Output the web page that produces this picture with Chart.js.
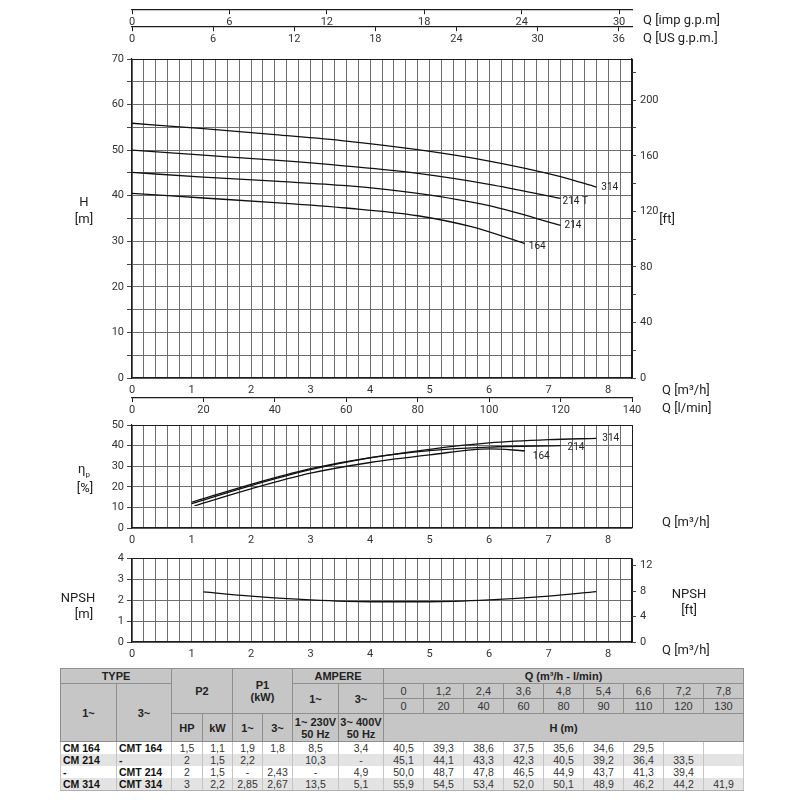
<!DOCTYPE html>
<html>
<head>
<meta charset="utf-8">
<title>CM pump curves</title>
<script src="https://cdn.jsdelivr.net/npm/chart.js@4.4.1/dist/chart.umd.min.js"></script>
<style>
  html, body { margin: 0; padding: 0; background: #fff; }
  body { width: 800px; height: 800px; position: relative; overflow: hidden;
         font-family: Roboto, "Liberation Sans", sans-serif; color: #222; }
  canvas { position: absolute; left: 0; }
  .lbl { position: absolute; font-size: 13px; line-height: 16px; white-space: nowrap; }
  .c { transform: translate(-50%, -50%); text-align: center; }
  .l { transform: translate(0, -50%); }
  table { position: absolute; left: 60px; top: 668px; border-collapse: collapse; table-layout: fixed;
          font-family: "Liberation Sans", Arial, sans-serif; font-size: 10.5px; color: #333; }
  th { background: #c6c6c6; border: 1px solid #8e8e8e; font-weight: bold; color: #222;
       padding: 0; text-align: center; line-height: 12px; font-size: 11px; }
  th.n { font-weight: normal; color: #333; font-size: 11px; }
  td { border-left: 1px solid #c4c4c4; border-right: 1px solid #c4c4c4; padding: 0;
       text-align: center; height: 12px; line-height: 12px; }
  td.t { text-align: left; padding-left: 2px; font-weight: bold; color: #111; }
  tr.g td { background: #e3e3e3; }
  tbody tr:last-child td { border-bottom: 1px solid #b0b0b0; }
</style>
</head>
<body>
<canvas id="cH" width="800" height="420" style="top:0"></canvas>
<canvas id="cE" width="800" height="138" style="top:412px"></canvas>
<canvas id="cN" width="800" height="119" style="top:548px"></canvas>

<div class="lbl l" style="left:643px; top:20px">Q [imp g.p.m]</div>
<div class="lbl l" style="left:643px; top:38px">Q [US g.p.m.]</div>
<div class="lbl c" style="left:84px; top:202px">H</div>
<div class="lbl c" style="left:84px; top:219px">[m]</div>
<div class="lbl c" style="left:667px; top:219px">[ft]</div>
<div class="lbl l" style="left:662px; top:390px">Q [m³/h]</div>
<div class="lbl l" style="left:662px; top:408px">Q [l/min]</div>
<div class="lbl c" style="left:84px; top:472px">η<sub style="font-size:8px">p</sub></div>
<div class="lbl c" style="left:85px; top:488px">[%]</div>
<div class="lbl l" style="left:662px; top:522px">Q [m³/h]</div>
<div class="lbl c" style="left:78px; top:598px">NPSH</div>
<div class="lbl c" style="left:84px; top:614px">[m]</div>
<div class="lbl c" style="left:689px; top:594px">NPSH</div>
<div class="lbl c" style="left:689px; top:610px">[ft]</div>
<div class="lbl l" style="left:662px; top:650px">Q [m³/h]</div>

<table id="tbl">
  <colgroup>
    <col style="width:56px"><col style="width:55px"><col style="width:31px"><col style="width:30px">
    <col style="width:30px"><col style="width:30px"><col style="width:46px"><col style="width:45px">
    <col style="width:40px"><col style="width:40px"><col style="width:40px"><col style="width:40px">
    <col style="width:40px"><col style="width:40px"><col style="width:40px"><col style="width:40px">
    <col style="width:40px">
  </colgroup>
  <thead>
    <tr style="height:15px">
      <th colspan="2">TYPE</th>
      <th colspan="2" rowspan="3">P2</th>
      <th colspan="2" rowspan="3">P1<br>(kW)</th>
      <th colspan="2">AMPERE</th>
      <th colspan="9">Q (m³/h - l/min)</th>
    </tr>
    <tr id="rowQ" style="height:15px">
      <th rowspan="3">1~</th><th rowspan="3">3~</th>
      <th rowspan="2">1~</th><th rowspan="2">3~</th>
    </tr>
    <tr id="rowL" style="height:15px"></tr>
    <tr style="height:28px">
      <th>HP</th><th>kW</th><th>1~</th><th>3~</th>
      <th>1~ 230V<br>50 Hz</th><th>3~ 400V<br>50 Hz</th>
      <th colspan="9">H (m)</th>
    </tr>
  </thead>
  <tbody id="tb"></tbody>
</table>

<script>
// flow points of the table, m3/h and l/min
const qTable = [0, 1.2, 2.4, 3.6, 4.8, 5.4, 6.6, 7.2, 7.8];
const qTableLmin = [0, 20, 40, 60, 80, 90, 110, 120, 130];

// head (m) per model, as printed in the table
const hCM164 = [40.5, 39.3, 38.6, 37.5, 35.6, 34.6, 29.5];
const hCM214 = [45.1, 44.1, 43.3, 42.3, 40.5, 39.2, 36.4, 33.5];
const hCMT214 = [50.0, 48.7, 47.8, 46.5, 44.9, 43.7, 41.3, 39.4];
const hCM314 = [55.9, 54.5, 53.4, 52.0, 50.1, 48.9, 46.2, 44.2, 41.9];

// head curves (m)
const curveQ314 = [0, 1.2, 2.4, 3.6, 4.8, 6.0, 7.2, 7.8];
const curveH314 = [55.9, 54.7, 53.4, 52.0, 50.1, 47.6, 44.2, 41.9];
const curveQ214T = [0, 1.2, 2.4, 3.6, 4.8, 6.0, 7.2];
const curveH214T = [50.0, 48.9, 47.8, 46.5, 44.9, 42.5, 39.4];
const curveQ214 = [0, 1.2, 2.4, 3.6, 4.8, 6.0, 7.2];
const curveH214 = [45.1, 44.1, 43.2, 42.2, 40.5, 37.8, 33.5];
const curveQ164 = [0, 1.2, 2.4, 3.6, 4.8, 5.7, 6.6];
const curveH164 = [40.5, 39.5, 38.5, 37.3, 35.6, 33.2, 29.5];

// table electrical data
const type1 = ['CM 164', 'CM 214', '-', 'CM 314'];
const type3 = ['CMT 164', '-', 'CMT 214', 'CMT 314'];
const p2HP = ['1,5', '2', '2', '3'];
const p2kW = ['1,1', '1,5', '1,5', '2,2'];
const p1One = ['1,9', '2,2', '-', '2,85'];
const p1Three = ['1,8', '', '2,43', '2,67'];
const ampOne = ['8,5', '10,3', '-', '13,5'];
const ampThree = ['3,4', '-', '4,9', '5,1'];
const headRows = [hCM164, hCM214, hCMT214, hCM314];

// pump efficiency (%)
const effQ314 = [1.0, 2.0, 3.0, 4.0, 5.0, 6.0, 7.0, 7.8];
const eff314 = [11.8, 20.6, 28.3, 34.0, 38.2, 41.3, 42.9, 43.5];
const effQ214 = [1.0, 2.0, 3.0, 4.0, 5.0, 6.0, 7.2];
const eff214 = [12.5, 21.2, 28.8, 34.2, 37.6, 39.3, 40.0];
const effQ164 = [1.05, 2.0, 3.0, 4.0, 5.0, 6.0, 6.6];
const eff164 = [10.8, 19.0, 26.6, 31.8, 35.5, 38.4, 37.5];

// NPSH (m)
const npshQ = [1.2, 2.0, 3.0, 4.0, 5.0, 6.0, 7.0, 7.8];
const npshM = [2.4, 2.2, 2.02, 1.93, 1.93, 2.02, 2.2, 2.42];

const M_PER_FT = 0.3048;
const LMIN_PER_IMP = 4.54609, LMIN_PER_US = 3.78541;
const Q_MAX = 8.4, LMIN_MAX = 140;

const GRID = '#6e6e6e', EDGE = '#1c1c1c';
const tickFont = { family: 'Roboto', size: 11 };
const tickColor = '#333';

function edgeGrid(max) {
  return c => (c.tick && Math.abs(c.tick.value - max) < 1e-6) ? EDGE : GRID;
}
function pts(xs, ys) {
  return ys.map((y, i) => ({ x: xs[i], y: y }));
}
function curve(label, xs, ys, dx, dy) {
  return { data: pts(xs, ys), endLabel: label, labelDx: dx, labelDy: dy,
           borderColor: '#111', borderWidth: 1.3, pointRadius: 0,
           cubicInterpolationMode: 'monotone', fill: false };
}

const endLabels = {
  id: 'endLabels',
  afterDatasetsDraw(chart) {
    const ctx = chart.ctx;
    ctx.save();
    ctx.font = '10px Roboto';
    ctx.fillStyle = '#222';
    ctx.textBaseline = 'middle';
    chart.data.datasets.forEach((ds, i) => {
      if (!ds.endLabel) return;
      const els = chart.getDatasetMeta(i).data;
      const p = els[els.length - 1];
      ctx.fillText(ds.endLabel, p.x + ds.labelDx, p.y + ds.labelDy);
    });
    ctx.restore();
  }
};

// m3/h scale with 0.2 grid, labels on whole numbers
function qAxis(h, pad) {
  return {
    type: 'linear', position: 'bottom', min: 0, max: Q_MAX,
    ticks: { stepSize: 0.2, autoSkip: false, maxRotation: 0, padding: pad, font: tickFont, color: tickColor,
             callback: v => Math.abs(v - Math.round(v)) < 1e-6 ? Math.round(v) : '' },
    grid: { color: edgeGrid(Q_MAX), drawTicks: false, lineWidth: 1 },
    border: { color: EDGE, width: 1.2 },
    afterFit: s => { s.height = h; }
  };
}
function leftAxis(max, step, every) {
  return {
    type: 'linear', position: 'left', min: 0, max: max,
    ticks: { stepSize: step, padding: 3, font: tickFont, color: tickColor,
             callback: v => Math.abs(v / every - Math.round(v / every)) < 1e-6 ? v : '' },
    grid: { color: edgeGrid(max), tickLength: 5, tickColor: '#444' },
    border: { color: EDGE, width: 1.2 },
    afterFit: s => { s.width = 132; }
  };
}
function topAxis(max, yVal) {
  return {
    type: 'linear', position: { y: yVal }, min: 0, max: max,
    ticks: { stepSize: 6, includeBounds: false, padding: 2, font: tickFont, color: tickColor, maxRotation: 0 },
    grid: { drawOnChartArea: false, tickLength: 4, color: EDGE },
    border: { color: EDGE, width: 1.2 }
  };
}
const baseOpts = {
  responsive: false, animation: false, devicePixelRatio: 1,
  plugins: { legend: { display: false }, tooltip: { enabled: false } }
};

// head chart
new Chart(document.getElementById('cH'), {
  type: 'line',
  data: { datasets: [
    curve('314', curveQ314, curveH314, 5, 0),
    curve('214 T', curveQ214T, curveH214T, 2, 3),
    curve('214', curveQ214, curveH214, 4, 0),
    curve('164', curveQ164, curveH164, 4, 3)
  ] },
  plugins: [endLabels],
  options: Object.assign({}, baseOpts, {
    layout: { padding: { top: 59, left: 0, right: 0, bottom: 0 } },
    scales: {
      x: qAxis(20, 6),
      xl: {
        type: 'linear', position: 'bottom', min: 0, max: LMIN_MAX,
        ticks: { stepSize: 20, padding: 2, font: tickFont, color: tickColor, maxRotation: 0 },
        grid: { drawOnChartArea: false, tickLength: 4, color: EDGE },
        border: { color: EDGE, width: 1.2 },
        afterFit: s => { s.height = 22; }
      },
      xi: topAxis(LMIN_MAX / LMIN_PER_IMP, 80.9),
      xu: topAxis(LMIN_MAX / LMIN_PER_US, 77.0),
      y: leftAxis(70, 5, 10),
      yf: {
        type: 'linear', position: 'right', min: 0, max: 70 / M_PER_FT,
        ticks: { stepSize: 20, includeBounds: false, padding: 4, font: tickFont, color: tickColor,
                 callback: v => v % 40 === 0 ? v : '' },
        grid: { drawOnChartArea: false, tickLength: 4, color: '#444' },
        border: { color: EDGE, width: 1.2 },
        afterFit: s => { s.width = 168; }
      }
    }
  })
});

// efficiency chart
new Chart(document.getElementById('cE'), {
  type: 'line',
  data: { datasets: [
    curve('314', effQ314, eff314, 6, 0),
    curve('214', effQ214, eff214, 7, 2),
    curve('164', effQ164, eff164, 8, 6)
  ] },
  plugins: [endLabels],
  options: Object.assign({}, baseOpts, {
    layout: { padding: { top: 13, left: 0, right: 168, bottom: 0 } },
    scales: { x: qAxis(22, 6), y: leftAxis(50, 5, 10) }
  })
});

// NPSH chart
new Chart(document.getElementById('cN'), {
  type: 'line',
  data: { datasets: [ curve(null, npshQ, npshM, 0, 0) ] },
  options: Object.assign({}, baseOpts, {
    layout: { padding: { top: 9.5, left: 0, right: 0, bottom: 0 } },
    scales: {
      x: qAxis(25, 6),
      y: leftAxis(4, 0.5, 1),
      yf: {
        type: 'linear', position: 'right', min: 0, max: 4 / M_PER_FT,
        ticks: { stepSize: 4, includeBounds: false, padding: 4, font: tickFont, color: tickColor },
        grid: { drawOnChartArea: false, tickLength: 4, color: '#444' },
        border: { color: EDGE, width: 1.2 },
        afterFit: s => { s.width = 168; }
      }
    }
  })
});

// table body and flow header built from the arrays
const fmt = v => Number.isInteger(v) ? String(v) : String(v).replace('.', ',');
const rowQ = document.getElementById('rowQ');
qTable.forEach(q => { const th = document.createElement('th'); th.className = 'n'; th.textContent = fmt(q); rowQ.appendChild(th); });
const rowL = document.getElementById('rowL');
qTableLmin.forEach(q => { const th = document.createElement('th'); th.className = 'n'; th.textContent = q; rowL.appendChild(th); });

const tb = document.getElementById('tb');
type1.forEach((t, i) => {
  const tr = document.createElement('tr');
  if (i % 2 === 1) tr.className = 'g';
  const cells = [[t, 't'], [type3[i], 't'], [p2HP[i]], [p2kW[i]], [p1One[i]], [p1Three[i]], [ampOne[i]], [ampThree[i]]];
  qTable.forEach((q, k) => {
    const h = headRows[i][k];
    cells.push([h === undefined ? '' : h.toFixed(1).replace('.', ',')]);
  });
  cells.forEach(c => {
    const td = document.createElement('td');
    td.textContent = c[0];
    if (c[1]) td.className = c[1];
    tr.appendChild(td);
  });
  tb.appendChild(tr);
});
</script>
</body>
</html>
